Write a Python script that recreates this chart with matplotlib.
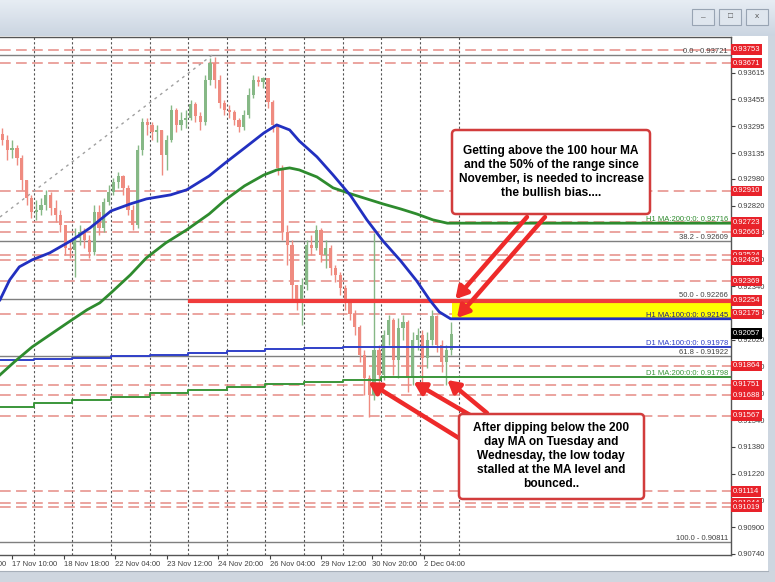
import numpy as np
import matplotlib
matplotlib.use('Agg')
import matplotlib.pyplot as plt
import matplotlib.transforms as mtrans
from matplotlib.patches import Rectangle, FancyBboxPatch

plt.rcParams['font.family'] = ['Liberation Sans', 'DejaVu Sans']

W, H = 775, 582
PX_PER_BAR = 1.609

# colours
BULL = '#86b886'
BEAR = '#ef8b80'
BLUE = '#2230c0'
GREEN = '#2e8b2e'
DASH_RED = '#e58b85'
TAG_RED = '#e8222a'
ARROW_RED = '#ee2a2a'

# hourly chart, candles grouped by 3 bars
first_open = 0.93250
closes = [0.93213, 0.93154, 0.93165, 0.93106, 0.92974, 0.92867, 0.92783, 0.92795, 0.92825, 0.92885,
          0.92807, 0.92765, 0.92706, 0.92568, 0.92557, 0.92628, 0.92664, 0.92616, 0.92545, 0.92783,
          0.92688, 0.92843, 0.92903, 0.92962, 0.92998, 0.92927, 0.92795, 0.92706, 0.93154, 0.93321,
          0.93303, 0.93261, 0.93273, 0.93124, 0.93213, 0.93392, 0.93303, 0.93333, 0.93345, 0.93428,
          0.93356, 0.93321, 0.93571, 0.93673, 0.93571, 0.93434, 0.93392, 0.93380, 0.93333, 0.93291,
          0.93362, 0.93482, 0.93571, 0.93559, 0.93583, 0.93440, 0.93303, 0.93046, 0.92664, 0.92586,
          0.92348, 0.92258, 0.92348, 0.92586, 0.92568, 0.92676, 0.92527, 0.92568, 0.92449, 0.92407,
          0.92330, 0.92240, 0.92174, 0.92097, 0.91930, 0.91792, 0.91691, 0.91959, 0.91810, 0.92049,
          0.92139, 0.91900, 0.92091, 0.92127, 0.91792, 0.92019, 0.92049, 0.91912, 0.92019, 0.92163,
          0.91989, 0.91888, 0.91959, 0.92057]
highs = [0.93285, 0.93243, 0.93213, 0.93183, 0.93124, 0.92974, 0.92885, 0.92855, 0.92867, 0.92915,
         0.92903, 0.92855, 0.92795, 0.92676, 0.92616, 0.92688, 0.92706, 0.92688, 0.92646, 0.92825,
         0.92825, 0.92867, 0.92945, 0.92986, 0.93022, 0.93004, 0.92945, 0.92825, 0.93183, 0.93345,
         0.93345, 0.93321, 0.93303, 0.93243, 0.93243, 0.93422, 0.93404, 0.93380, 0.93392, 0.93452,
         0.93440, 0.93380, 0.93601, 0.93703, 0.93709, 0.93601, 0.93452, 0.93422, 0.93392, 0.93345,
         0.93392, 0.93524, 0.93601, 0.93595, 0.93589, 0.93571, 0.93452, 0.93303, 0.93064, 0.92706,
         0.92616, 0.92348, 0.92389, 0.92616, 0.92646, 0.92706, 0.92688, 0.92616, 0.92586, 0.92467,
         0.92425, 0.92348, 0.92258, 0.92198, 0.92109, 0.91959, 0.91810, 0.92658, 0.91989, 0.92079,
         0.92169, 0.92151, 0.92151, 0.92169, 0.92139, 0.92067, 0.92091, 0.92079, 0.92067, 0.92198,
         0.92169, 0.92019, 0.91989, 0.92127]
lows = [0.93183, 0.93094, 0.93106, 0.93064, 0.92915, 0.92825, 0.92748, 0.92736, 0.92765, 0.92795,
        0.92765, 0.92724, 0.92664, 0.92527, 0.92509, 0.92395, 0.92586, 0.92568, 0.92509, 0.92527,
        0.92646, 0.92664, 0.92825, 0.92885, 0.92927, 0.92885, 0.92765, 0.92676, 0.92688, 0.93124,
        0.93243, 0.93213, 0.93201, 0.93004, 0.93034, 0.93201, 0.93261, 0.93273, 0.93285, 0.93333,
        0.93321, 0.93273, 0.93303, 0.93542, 0.93524, 0.93404, 0.93362, 0.93345, 0.93303, 0.93261,
        0.93273, 0.93345, 0.93464, 0.93536, 0.93524, 0.93404, 0.93261, 0.93004, 0.92616, 0.92467,
        0.92258, 0.92198, 0.92109, 0.92318, 0.92527, 0.92557, 0.92485, 0.92449, 0.92407, 0.92365,
        0.92288, 0.92198, 0.92139, 0.92049, 0.91888, 0.91691, 0.91560, 0.91661, 0.91721, 0.91780,
        0.91989, 0.91810, 0.91792, 0.92019, 0.91709, 0.91751, 0.91959, 0.91733, 0.91852, 0.91989,
        0.91948, 0.91828, 0.91751, 0.91930]

# hourly moving averages
h1_ma100_bars = [0, 6, 12, 20, 31, 45, 56, 69, 81, 91, 106, 116, 130, 140, 152, 164, 172, 180, 186,
                 197, 207, 218, 228, 238, 249, 259, 267, 273, 280]
h1_ma100 = [0.92258, 0.92377, 0.92455, 0.92497, 0.92539, 0.92616, 0.92688, 0.92789, 0.92831, 0.92861,
            0.92885, 0.92915, 0.92998, 0.93076, 0.93165, 0.93255, 0.93303, 0.93273, 0.93207, 0.93112,
            0.93004, 0.92879, 0.92736, 0.92610, 0.92491, 0.92371, 0.92258, 0.92186, 0.92145]
h1_ma200_bars = [0, 9, 20, 31, 42, 54, 62, 69, 81, 91, 103, 116, 130, 140, 152, 164, 172, 180, 186,
                 197, 207, 218, 228, 238, 249, 259, 269, 278]
h1_ma200 = [0.91810, 0.91888, 0.91977, 0.92049, 0.92121, 0.92198, 0.92240, 0.92300, 0.92407, 0.92509,
            0.92598, 0.92676, 0.92771, 0.92855, 0.92939, 0.93004, 0.93034, 0.93046, 0.93034, 0.92992,
            0.92927, 0.92891, 0.92861, 0.92831, 0.92801, 0.92771, 0.92736, 0.92716]

# daily moving averages (step per day)
day_bars = [0, 21, 45, 69, 93, 117, 141, 165, 189, 213, 237]
d1_ma100 = [0.91900, 0.91906, 0.91912, 0.91924, 0.91930, 0.91942, 0.91954, 0.91965, 0.91971, 0.91978, 0.91978]
d1_ma200 = [0.91619, 0.91643, 0.91661, 0.91679, 0.91703, 0.91721, 0.91739, 0.91757, 0.91769, 0.91780, 0.91798]

red_levels = [0.93753, 0.93671, 0.92910, 0.92723, 0.92663, 0.92524, 0.92495, 0.92369, 0.92175,
              0.91864, 0.91751, 0.91688, 0.91567, 0.91114, 0.91044, 0.91019]
key_level = 0.92254
key_level_start = 118
last_price = 0.92057

fib_levels = [0.93721, 0.92609, 0.92266, 0.91922, 0.90811]
fib_names = ['0.0', '38.2', '50.0', '61.8', '100.0']
trend_bars = [0, 132]
trend_prices = [0.92753, 0.93721]

yellow_start = 281
yellow_lo, yellow_hi = 0.92150, 0.92251

price_ticks = [0.93615, 0.93455, 0.93295, 0.93135, 0.92980, 0.92820, 0.92660, 0.92500, 0.92340,
               0.92180, 0.92020, 0.91860, 0.91700, 0.91540, 0.91380, 0.91220, 0.91060, 0.90900, 0.90740]
time_ticks = [7.5, 39.5, 71.5, 103.5, 135.5, 167.5, 199.5, 231.5, 263.5]
time_labels = ['17 Nov 10:00', '18 Nov 18:00', '22 Nov 04:00', '23 Nov 12:00', '24 Nov 20:00',
               '26 Nov 04:00', '29 Nov 12:00', '30 Nov 20:00', '2 Dec 04:00']
sep_bars = [21 + 24 * i for i in range(12)]

fig = plt.figure(figsize=(W / 100, H / 100), dpi=100)
fig.patch.set_facecolor('white')

# window chrome (pixel coords, y down)
bg = fig.add_axes([0, 0, 1, 1], zorder=0)
bg.set_xlim(0, W)
bg.set_ylim(H, 0)
bg.axis('off')
grad = np.linspace(0, 1, 64).reshape(-1, 1)
bg.imshow(grad, cmap=matplotlib.colors.LinearSegmentedColormap.from_list('t', ['#e7edf4', '#cbd5e1']),
          extent=[0, W, 36, 0], aspect='auto')
for bx in [692, 719, 746]:
    bg.add_patch(Rectangle((bx, 9), 22, 16, fc='#dfe6ee', ec='#98a4b3', lw=0.8))
bg.text(703, 18, '–', ha='center', va='center', fontsize=6, color='#555')
bg.text(730, 17, '□', ha='center', va='center', fontsize=6, color='#555')
bg.text(757, 17, 'x', ha='center', va='center', fontsize=6, color='#555')
bg.add_patch(Rectangle((768, 36), 7, H - 36, fc='#cdd6e0', ec='none'))
bg.add_patch(Rectangle((0, 571), W, 11, fc='#cfd6df', ec='none'))
bg.plot([0, 768], [570.5, 570.5], color='#a7afb9', lw=0.8)

ax = fig.add_axes([0, 27 / H, 731 / W, 518 / H], zorder=1)
ax.set_xlim(0, 731 / PX_PER_BAR)
ax.set_ylim(0.90734, 0.93828)
xmax = 731 / PX_PER_BAR

for b in sep_bars:
    ax.axvline(b, color='#555555', lw=0.8, ls=(0, (2, 2)), zorder=1)
for p in red_levels:
    ax.axhline(p, color=DASH_RED, lw=1.1, dashes=(7, 3.5), zorder=1)
for p in fib_levels:
    ax.axhline(p, color='#7f7f7f', lw=1.0, zorder=1)
ax.plot(trend_bars, trend_prices, color='#a0a0a0', lw=1.0, ls=(0, (2, 3)), zorder=1)

# candles
opens = [first_open] + closes[:-1]
o = np.array(opens)
c = np.array(closes)
hi = np.maximum(np.array(highs), np.maximum(o, c))
lo = np.minimum(np.array(lows), np.minimum(o, c))
xs = np.arange(len(closes)) * 3 + 1.5
cols = [BULL if cc >= oo else BEAR for oo, cc in zip(o, c)]
ax.vlines(xs, lo, hi, colors=cols, lw=1.0, zorder=2)
ax.bar(xs, np.abs(c - o), bottom=np.minimum(o, c), width=2.0, color=cols, zorder=2)

# key level, yellow zone
ax.add_patch(Rectangle((yellow_start, yellow_lo), xmax - yellow_start, yellow_hi - yellow_lo,
                       fc='#ffff00', ec='none', zorder=1.5))
ax.plot([key_level_start, xmax], [key_level, key_level], color='#f03c3c', lw=3.0, zorder=3)

# moving averages
ax.step(day_bars + [xmax], d1_ma100 + [d1_ma100[-1]], where='post', color='#3040c8', lw=1.4, zorder=3)
ax.step(day_bars + [xmax], d1_ma200 + [d1_ma200[-1]], where='post', color='#3a963a', lw=1.4, zorder=3)
ax.plot(h1_ma200_bars + [xmax], h1_ma200 + [h1_ma200[-1]], color=GREEN, lw=2.0, zorder=4)
ax.plot(h1_ma100_bars + [xmax], h1_ma100 + [h1_ma100[-1]], color=BLUE, lw=2.0, zorder=4)

# level labels on the right edge
blend = mtrans.blended_transform_factory(ax.transAxes, ax.transData)
for p, n in zip(fib_levels, fib_names):
    ax.text(0.996, p, '%s - %.5f' % (n, p), transform=blend, ha='right', va='bottom',
            fontsize=5.5, color='#404040', zorder=5)
ax.text(0.996, h1_ma200[-1], 'H1 MA:200:0:0: %.5f' % h1_ma200[-1], transform=blend, ha='right',
        va='bottom', fontsize=5.5, color=GREEN, zorder=5)
ax.text(0.996, h1_ma100[-1], 'H1 MA:100:0:0: %.5f' % h1_ma100[-1], transform=blend, ha='right',
        va='bottom', fontsize=5.5, color='#202080', zorder=5)
ax.text(0.996, d1_ma100[-1], 'D1 MA:100:0:0: %.5f' % d1_ma100[-1], transform=blend, ha='right',
        va='bottom', fontsize=5.5, color='#3040c8', zorder=5)
ax.text(0.996, d1_ma200[-1], 'D1 MA:200:0:0: %.5f' % d1_ma200[-1], transform=blend, ha='right',
        va='bottom', fontsize=5.5, color='#3a963a', zorder=5)

# axes styling
ax.spines['left'].set_visible(False)
for s in ['top', 'right', 'bottom']:
    ax.spines[s].set_color('#555555')
    ax.spines[s].set_linewidth(1.0)
ax.yaxis.tick_right()
ax.set_yticks(price_ticks)
ax.set_yticklabels(['%.5f' % t for t in price_ticks])
ax.set_xticks(time_ticks)
ax.set_xticklabels(time_labels)
for t in ax.get_xticklabels():
    t.set_ha('left')
ax.tick_params(axis='both', labelsize=5.5, colors='#404040', length=3, width=0.8, pad=1.5)
# label of the previous period, mostly off the left edge
xb = mtrans.blended_transform_factory(ax.transData, ax.transAxes)
ax.annotate('16 Nov 02:00', xy=(time_ticks[0] - 32, 0), xycoords=xb, xytext=(0, -4.5),
            textcoords='offset points', ha='left', va='top', fontsize=5.5, color='#404040',
            annotation_clip=False)

# price tags
for p in red_levels + [key_level]:
    ax.annotate('%.5f' % p, xy=(1, p), xycoords=blend, xytext=(2, 0), textcoords='offset pixels',
                ha='left', va='center', fontsize=5.5, color='white', annotation_clip=False, zorder=6,
                bbox=dict(boxstyle='square,pad=0.22', fc=TAG_RED, ec='none'))
ax.annotate('%.5f' % last_price, xy=(1, last_price), xycoords=blend, xytext=(2, 0), textcoords='offset pixels',
            ha='left', va='center', fontsize=5.5, color='white', annotation_clip=False, zorder=6,
            bbox=dict(boxstyle='square,pad=0.22', fc='black', ec='none'))

# overlay for comment boxes
ov = fig.add_axes([0, 0, 1, 1], zorder=10)
ov.set_xlim(0, W)
ov.set_ylim(H, 0)
ov.axis('off')
ov.patch.set_alpha(0)

arrow = dict(arrowstyle='-|>,head_length=0.7,head_width=0.4', lw=3.2, color=ARROW_RED,
             shrinkA=0, shrinkB=0)
for tip, tail in [((283, 0.92262), (527, 217)), ((284, 0.92150), (545, 217))]:
    ax.annotate('', xy=tip, xycoords='data', xytext=tail, textcoords=ov.transData, arrowprops=arrow, zorder=7)
for tip, tail in [((229, 0.91767), (462, 440)), ((257, 0.91767), (470, 415)), ((278, 0.91779), (487, 413))]:
    ax.annotate('', xy=tip, xycoords='data', xytext=tail, textcoords=ov.transData, arrowprops=arrow, zorder=7)

ov.add_patch(FancyBboxPatch((452, 130), 198, 84, boxstyle='round,pad=0,rounding_size=4',
                            fc='white', ec='#d23c3c', lw=1.8))
ov.text(551, 172, 'Getting above the 100 hour MA\nand the 50% of the range since\n'
        'November, is needed to increase\nthe bullish bias....', ha='center', va='center',
        fontsize=8.6, fontweight='bold', linespacing=1.25, color='black')
ov.add_patch(FancyBboxPatch((459, 414), 185, 85, boxstyle='round,pad=0,rounding_size=4',
                            fc='white', ec='#d23c3c', lw=1.8))
ov.text(551, 456, 'After dipping below the 200\nday MA on Tuesday and\nWednesday, the low today\n'
        'stalled at the MA level and\nbounced..', ha='center', va='center',
        fontsize=8.6, fontweight='bold', linespacing=1.22, color='black')

fig.savefig('out.png', dpi=100)
